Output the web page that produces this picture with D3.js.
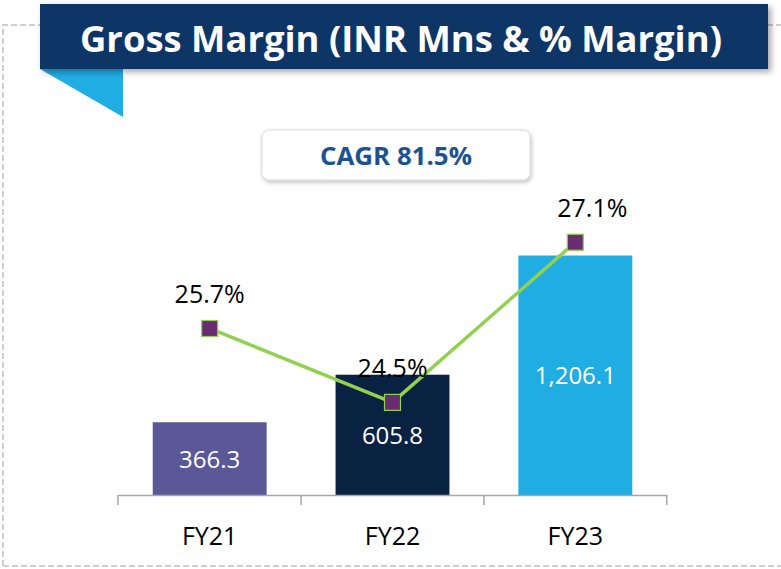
<!DOCTYPE html>
<html><head><meta charset="utf-8">
<script src="https://cdn.jsdelivr.net/npm/d3@7/dist/d3.min.js"></script>
<style>html,body{margin:0;padding:0;background:#fff;}svg{display:block;}</style>
</head><body>
<svg id="chart" width="781" height="569"></svg>
<script>
const categories = ["FY21", "FY22", "FY23"];
const grossMargin = [366.3, 605.8, 1206.1];
const grossMarginLabels = ["366.3", "605.8", "1,206.1"];
const marginPct = [25.7, 24.5, 27.1];
const barColors = ["#5B5898", "#0A2241", "#20ADE2"];
const titleText = "Gross Margin (INR Mns & % Margin)";
const cagrText = "CAGR 81.5%";

const FONT = "'Open Sans', 'Noto Sans', sans-serif";
const svg = d3.select("#chart");
const defs = svg.append("defs");
const sh = defs.append("filter").attr("id","sh").attr("x","-10%").attr("y","-20%").attr("width","130%").attr("height","160%");
sh.append("feDropShadow").attr("dx",3).attr("dy",3).attr("stdDeviation",3).attr("flood-color","#000").attr("flood-opacity",0.35);
const sh2 = defs.append("filter").attr("id","sh2").attr("x","-10%").attr("y","-30%").attr("width","130%").attr("height","180%");
sh2.append("feDropShadow").attr("dx",1).attr("dy",2).attr("stdDeviation",2).attr("flood-color","#000").attr("flood-opacity",0.25);

// dashed frame
svg.append("path").attr("d","M3,566 L3,25 L790,25 M3,566 L790,566")
  .attr("fill","none").attr("stroke","#cfcfcf").attr("stroke-width",2).attr("stroke-dasharray","6,3");

// title banner
svg.append("polygon").attr("points","40,69 123,69 123,117").attr("fill","#1FADE3");
svg.append("rect").attr("x",40).attr("y",4).attr("width",728).attr("height",65).attr("fill","#0B3566").attr("filter","url(#sh)");
svg.append("text").attr("x",401).attr("y",52).attr("text-anchor","middle")
  .attr("font-family",FONT).attr("font-weight","bold").attr("font-size",35)
  .attr("fill","#fff").attr("textLength",642).attr("lengthAdjust","spacingAndGlyphs").text(titleText);

// CAGR box
svg.append("rect").attr("x",262).attr("y",130).attr("width",268).attr("height",50).attr("rx",7)
  .attr("fill","#fff").attr("stroke","#d9d9d9").attr("filter","url(#sh2)");
svg.append("text").attr("x",396).attr("y",165).attr("text-anchor","middle")
  .attr("font-family",FONT).attr("font-weight","bold").attr("font-size",25)
  .attr("fill","#1B5390").attr("textLength",152).attr("lengthAdjust","spacingAndGlyphs").text(cagrText);

// scales
const x = d3.scaleBand().domain(categories).range([118, 667]).paddingInner(0.377).paddingOuter(0.19);
const y = d3.scaleLinear().domain([0, 1400]).range([495, 217]);
const yP = d3.scaleLinear().domain([20, 28]).range([679.6, 186.8]);
const xc = c => x(c) + x.bandwidth()/2;

// bars
svg.selectAll("rect.bar").data(categories).enter().append("rect").attr("class","bar")
  .attr("x", d => x(d)).attr("width", x.bandwidth())
  .attr("y", (d,i) => y(grossMargin[i])).attr("height", (d,i) => y(0) - y(grossMargin[i]))
  .attr("fill", (d,i) => barColors[i]);

svg.selectAll("text.val").data(categories).enter().append("text").attr("class","val")
  .attr("x", d => xc(d)).attr("y", (d,i) => (y(grossMargin[i]) + y(0))/2 + 9)
  .attr("text-anchor","middle").attr("font-family",FONT).attr("font-size",24)
  .attr("fill","#fff").text((d,i) => grossMarginLabels[i]);

// axis
const axisG = svg.append("g");
axisG.append("line").attr("x1",118).attr("x2",667).attr("y1",495.5).attr("y2",495.5).attr("stroke","#a6a6a6").attr("stroke-width",1.5);
const tickXs = [118].concat(categories.map(c => x(c) + x.bandwidth() + (x.step()-x.bandwidth())/2));
axisG.selectAll("line.tk").data(tickXs).enter().append("line").attr("class","tk")
  .attr("x1",d=>d).attr("x2",d=>d).attr("y1",495).attr("y2",505).attr("stroke","#a6a6a6").attr("stroke-width",1.5);
axisG.selectAll("text.cat").data(categories).enter().append("text").attr("class","cat")
  .attr("x", d => xc(d)).attr("y", 545).attr("text-anchor","middle")
  .attr("font-family",FONT).attr("font-size",25).attr("fill","#000").text(d => d);

// line
const line = d3.line().x((d,i) => xc(categories[i])).y(d => yP(d));
svg.append("path").datum(marginPct).attr("d", line).attr("fill","none").attr("stroke","#92D050").attr("stroke-width",3.5);
svg.selectAll("rect.mk").data(marginPct).enter().append("rect").attr("class","mk")
  .attr("x",(d,i) => xc(categories[i]) - 8).attr("y", d => yP(d) - 8).attr("width",16).attr("height",16)
  .attr("fill","#6A2C70").attr("stroke","#92D050").attr("stroke-width",1.2);
const lblDx = [0, 0, 17];
svg.selectAll("text.pct").data(marginPct).enter().append("text").attr("class","pct")
  .attr("x",(d,i) => xc(categories[i]) + lblDx[i]).attr("y", d => yP(d) - 25)
  .attr("text-anchor","middle").attr("font-family",FONT).attr("font-size",25)
  .attr("fill","#000").text(d => d.toFixed(1) + "%");
</script>
</body></html>
